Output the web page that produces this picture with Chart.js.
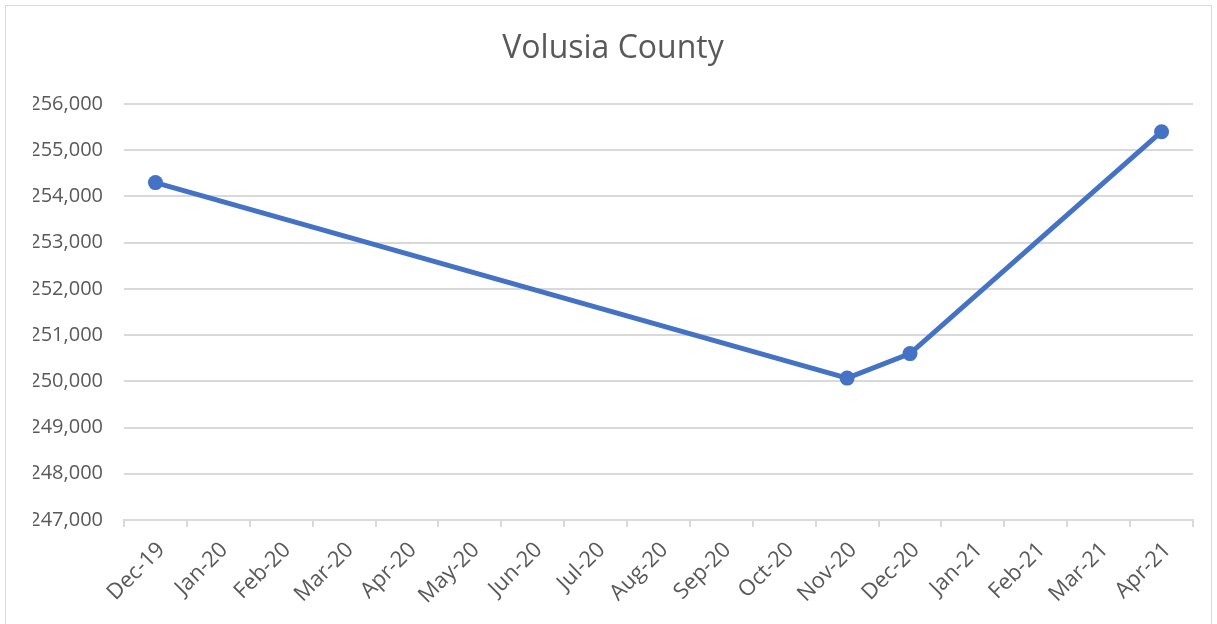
<!DOCTYPE html>
<html lang="en">
<head>
  <meta charset="UTF-8">
  <title>Volusia County</title>
  <script src="https://cdn.jsdelivr.net/npm/chart.js"></script>
  <style>
    body {
      margin: 0;
      padding: 0;
      background: white;
    }
    #wrap {
      position: relative;
      width: 1217px;
      height: 624px;
    }
    #frame {
      position: absolute;
      left: 5px;
      top: 5px;
      width: 1205px;
      height: 620px;
      border: 1px solid #d9d9d9;
      pointer-events: none;
    }
  </style>
</head>
<body>
  <div id="wrap">
    <canvas id="grafico" width="1217" height="624"></canvas>
    <div id="frame"></div>
  </div>

  <script>
    const meses = ['Dec-19', 'Jan-20', 'Feb-20', 'Mar-20', 'Apr-20', 'May-20', 'Jun-20', 'Jul-20',
      'Aug-20', 'Sep-20', 'Oct-20', 'Nov-20', 'Dec-20', 'Jan-21', 'Feb-21', 'Mar-21', 'Apr-21'];
    // only four months have a reading, the line runs across the empty ones
    const populacao = [254300, null, null, null, null, null, null, null,
      null, null, null, 250070, 250600, null, null, null, 255400];
    const eixoMin = 247000;
    const eixoMax = 256000;
    const passo = 1000;

    const cinza = '#595959';
    const linhaGrade = '#d9d9d9';
    const azul = '#4472c4';

    new Chart(document.getElementById('grafico'), {
      type: 'line',
      data: {
        labels: meses,
        datasets: [{
          data: populacao,
          borderColor: azul,
          backgroundColor: azul,
          borderWidth: 5,
          pointRadius: 7.5,
          pointHoverRadius: 7.5,
          pointBorderWidth: 0,
          spanGaps: true,
          tension: 0
        }]
      },
      options: {
        responsive: false,
        animation: false,
        // uneven side padding keeps the title centred on the frame
        layout: { padding: { left: 33, right: 24, top: 0, bottom: 0 } },
        plugins: {
          legend: { display: false },
          tooltip: { enabled: false },
          title: {
            display: true,
            text: 'Volusia County',
            color: cinza,
            font: { family: 'Open Sans', size: 32, weight: 'normal' },
            padding: { top: 30, bottom: 35.6 }
          }
        },
        scales: {
          x: {
            offset: true,
            grid: {
              display: true,
              drawOnChartArea: false,
              offset: true,
              color: linhaGrade,
              lineWidth: 2,
              tickLength: 7
            },
            border: { color: linhaGrade, width: 2 },
            ticks: {
              autoSkip: false,
              maxRotation: 45,
              minRotation: 45,
              padding: 10,
              labelOffset: 6,
              color: cinza,
              font: { family: 'Open Sans', size: 22 }
            },
            afterFit: s => { s.height = 104; }
          },
          y: {
            min: eixoMin,
            max: eixoMax,
            grid: { color: linhaGrade, lineWidth: 2, drawTicks: false },
            border: { display: false },
            ticks: {
              stepSize: passo,
              padding: 21,
              color: cinza,
              font: { family: 'Open Sans', size: 20 },
              callback: v => v.toLocaleString('en-US')
            },
            afterFit: s => { s.width = 91; }
          }
        }
      }
    });
  </script>
</body>
</html>
